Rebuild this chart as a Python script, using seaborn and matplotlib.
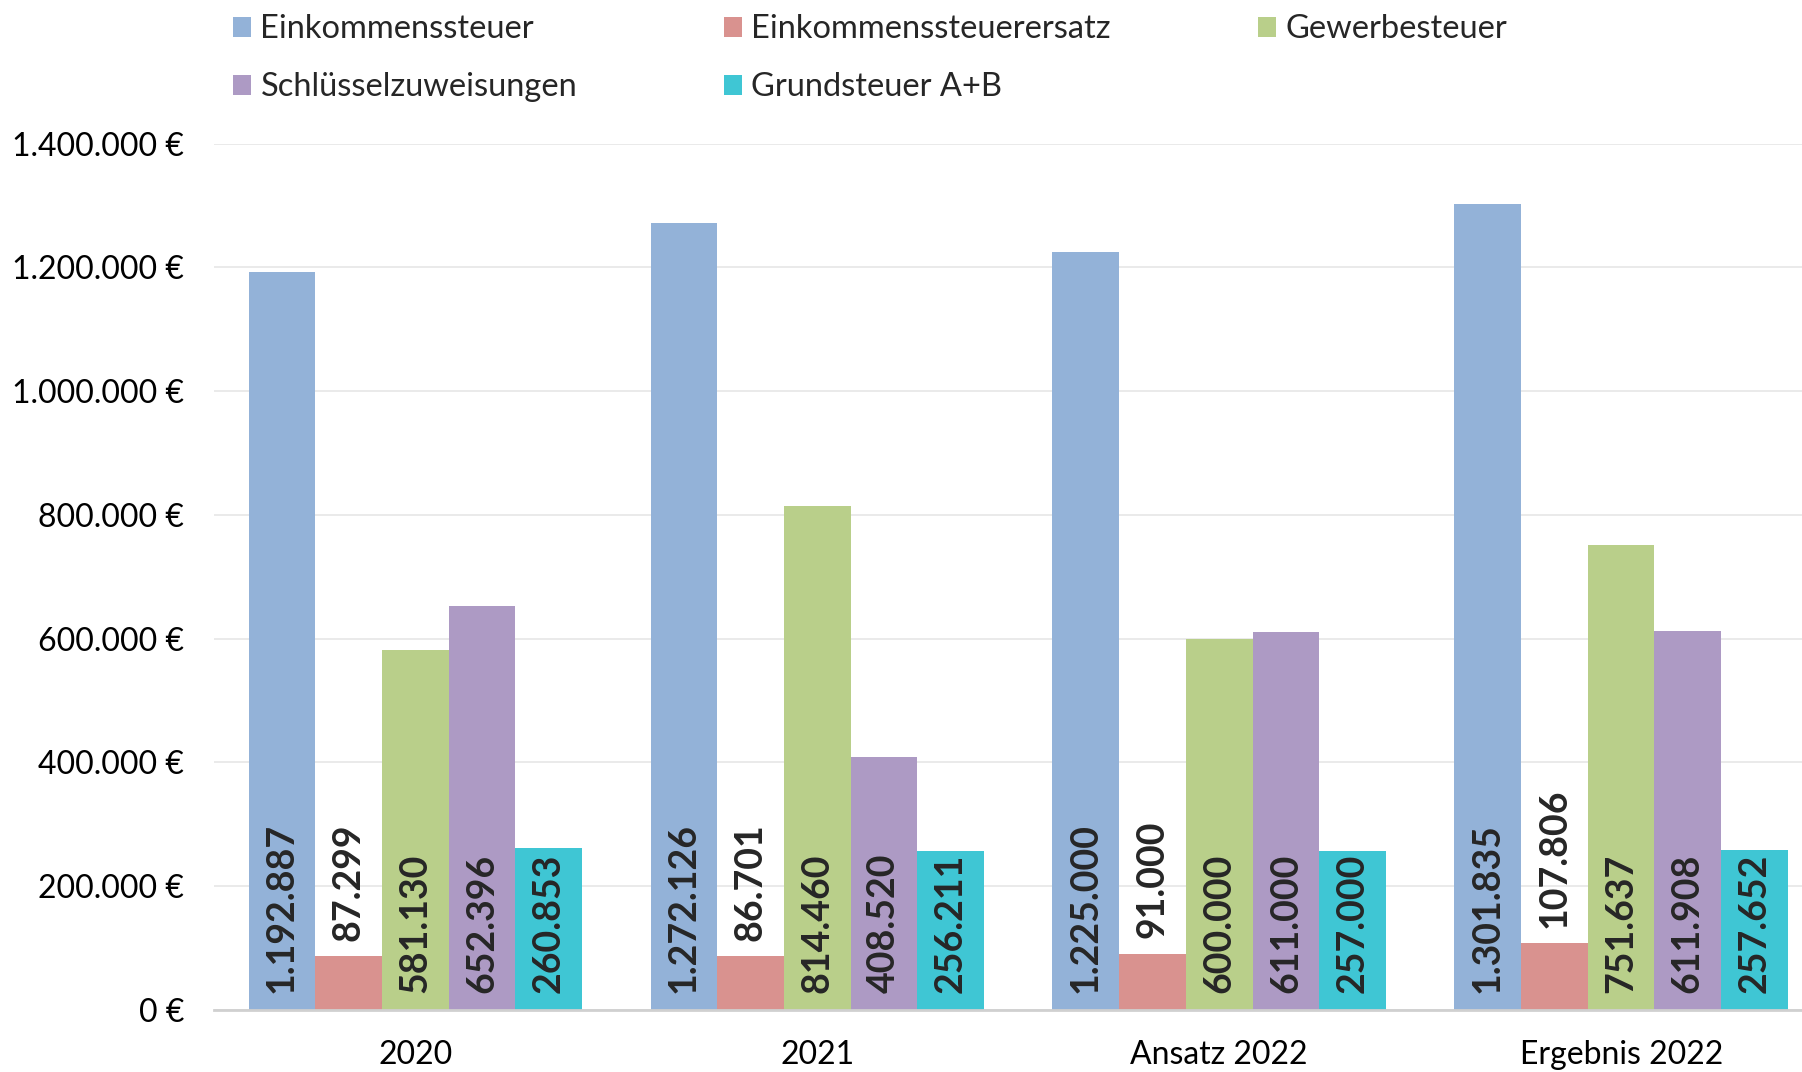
"""Steuereinnahmen 2020-2022 als gruppiertes Balkendiagramm."""

import matplotlib
import matplotlib.pyplot as plt
import pandas as pd
import seaborn as sns
from matplotlib.patches import Patch
from matplotlib.ticker import FuncFormatter, MultipleLocator

matplotlib.use("Agg")

years = ["2020", "2021", "Ansatz 2022", "Ergebnis 2022"]
series = [
    "Einkommenssteuer",
    "Einkommenssteuerersatz",
    "Gewerbesteuer",
    "Schlüsselzuweisungen",
    "Grundsteuer A+B",
]
einkommenssteuer = [1192887, 1272126, 1225000, 1301835]
einkommenssteuerersatz = [87299, 86701, 91000, 107806]
gewerbesteuer = [581130, 814460, 600000, 751637]
schluesselzuweisungen = [652396, 408520, 611000, 611908]
grundsteuer = [260853, 256211, 257000, 257652]

colors = ["#93B2D8", "#D9928F", "#B9CF8A", "#AD9AC4", "#3FC6D4"]


def fmt_de(value: float) -> str:
    return f"{int(round(value)):,}".replace(",", ".")


values = [einkommenssteuer, einkommenssteuerersatz, gewerbesteuer, schluesselzuweisungen, grundsteuer]
rows = []
for name, vals in zip(series, values):
    for year, val in zip(years, vals):
        rows.append({"Jahr": year, "Art": name, "Betrag": val})
df = pd.DataFrame(rows)

sns.set_theme(style="white")
plt.rcParams["font.family"] = ["Lato", "DejaVu Sans"]

fig = plt.figure(figsize=(18.02, 10.72), dpi=100)
ax = fig.add_axes([0.119, 0.058, 0.881, 0.808])

sns.barplot(
    data=df,
    x="Jahr",
    y="Betrag",
    hue="Art",
    order=years,
    hue_order=series,
    palette=colors,
    saturation=1,
    width=0.83,
    linewidth=0,
    legend=False,
    ax=ax,
)

ax.set_xlim(-0.5, 3.45)
ax.set_ylim(0, 1_400_000)
ax.yaxis.set_major_locator(MultipleLocator(200_000))
ax.yaxis.set_major_formatter(FuncFormatter(lambda v, _: f"{fmt_de(v)} €"))
ax.grid(axis="y", color="#E6E6E6", linewidth=1.2)
ax.set_axisbelow(True)
for side in ["left", "right", "top"]:
    ax.spines[side].set_visible(False)
ax.spines["bottom"].set_color("#D0D0D0")
ax.spines["bottom"].set_linewidth(2)
ax.tick_params(axis="both", length=0, labelsize=23, colors="black")
ax.tick_params(axis="x", pad=22)
ax.tick_params(axis="y", pad=22)
ax.set_xlabel("")
ax.set_ylabel("")

# Datenbeschriftungen: innen am Fuß, bei kleinen Balken oberhalb
for container in ax.containers:
    for bar in container:
        height = bar.get_height()
        x = bar.get_x() + bar.get_width() / 2
        if height > 200_000:
            ax.annotate(fmt_de(height), (x, 0), xytext=(0, 12), textcoords="offset points",
                        rotation=90, ha="center", va="bottom", fontsize=27, fontweight="bold")
        else:
            ax.annotate(fmt_de(height), (x, height), xytext=(0, 11), textcoords="offset points",
                        rotation=90, ha="center", va="bottom", fontsize=27, fontweight="bold")

# Legende zeilenweise füllen (matplotlib füllt spaltenweise)
order = [0, 3, 1, 4, 2]
handles = [Patch(facecolor=colors[i], edgecolor="none") for i in order]
labels = [series[i] for i in order]
fig.legend(
    handles,
    labels,
    loc="upper left",
    bbox_to_anchor=(0.113, 1.014),
    ncol=3,
    frameon=False,
    fontsize=23.5,
    handlelength=0.56,
    handleheight=0.56,
    handletextpad=0.28,
    columnspacing=4.5,
    labelspacing=0.85,
)

fig.savefig("out.png", dpi=100)
plt.close(fig)
